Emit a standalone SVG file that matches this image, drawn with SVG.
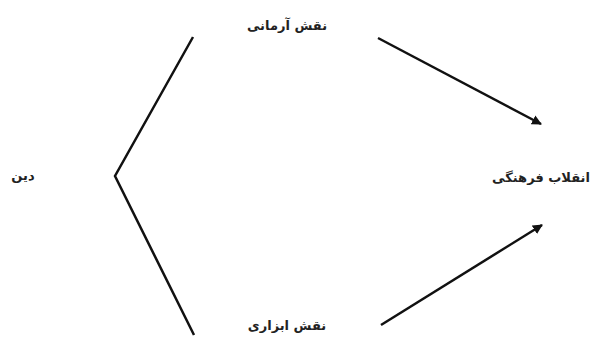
<svg xmlns="http://www.w3.org/2000/svg" width="595" height="338" viewBox="0 0 595 338">
<style>
.t{font-family:"DejaVu Sans","Noto Sans",sans-serif;font-size:13px;font-weight:bold;fill:#222;text-anchor:middle}
.c{stroke:#111;stroke-width:2.5;fill:none}
</style>
<defs>
<marker id="ah" viewBox="0 0 10 10" refX="9" refY="5" markerWidth="4" markerHeight="4" orient="auto" markerUnits="strokeWidth">
<path d="M0,0 L10,5 L0,10 z" fill="#111"/>
</marker>
</defs>
<rect width="595" height="338" fill="#fff"/>
<g id="connectors">
<polyline class="c" points="193,37 115,176 194,335"/>
<line class="c" x1="378" y1="38" x2="541" y2="124" marker-end="url(#ah)"/>
<line class="c" x1="381" y1="325" x2="542" y2="225" marker-end="url(#ah)"/>
</g>
<g id="n-din"><text class="t" x="23" y="180" direction="rtl">دین</text></g>
<g id="n-armani"><text class="t" x="287" y="30">نقش آرمانی</text></g>
<g id="n-abzari"><text class="t" x="287" y="330">نقش ابزاری</text></g>
<g id="n-enghelab"><text class="t" x="541" y="182">انقلاب فرهنگی</text></g>
</svg>
